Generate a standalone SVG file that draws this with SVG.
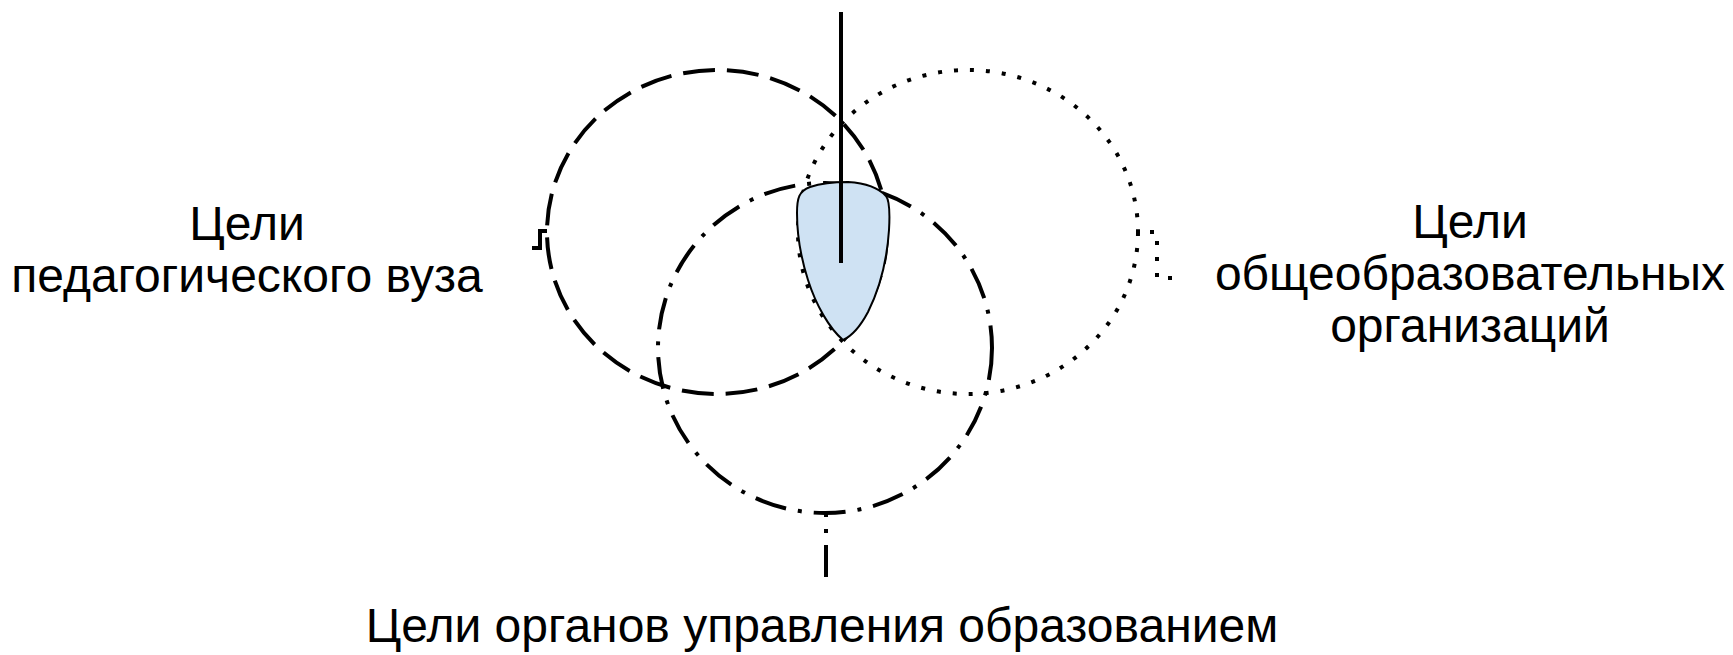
<svg xmlns="http://www.w3.org/2000/svg" width="1733" height="655" viewBox="0 0 1733 655">
  <style>
    .lbl { font-family: "Liberation Sans", Arial, sans-serif; font-size: 48px; fill: #000; text-anchor: middle; }
    .dash { fill: none; stroke: #000; stroke-width: 4; stroke-dasharray: 32 12; }
    .dot { fill: none; stroke: #000; stroke-width: 4; stroke-dasharray: 4 12; }
    .dashdot { fill: none; stroke: #000; stroke-width: 4; stroke-dasharray: 32 12 4 12; }
  </style>
  <rect width="1733" height="655" fill="#fff"/>
  <g id="node-vuz">
    <ellipse class="dash" cx="717" cy="232" rx="170" ry="162"/>
    <text class="lbl" x="247" y="240">Цели</text>
    <text class="lbl" x="247" y="292">педагогического вуза</text>
  </g>
  <g id="node-schools">
    <ellipse class="dot" cx="968" cy="232" rx="170" ry="162"/>
    <text class="lbl" x="1470" y="238">Цели</text>
    <text class="lbl" x="1470" y="290">общеобразовательных</text>
    <text class="lbl" x="1470" y="342">организаций</text>
  </g>
  <g id="node-gov">
    <ellipse class="dashdot" cx="825" cy="348" rx="167" ry="165"/>
    <text class="lbl" x="822" y="642">Цели органов управления образованием</text>
  </g>
  <g id="node-intersection">
    <path d="M843 340 C829 328 816 305 808 280 C800 255 797 230 797 213 C797 198 799 191 810 187 C822 183 835 182 848 182 C863 183 877 186 886 196 C890 201 890 213 889 230 C887 260 879 290 868 312 C860 327 852 336 843 340 Z" fill="#cfe2f3" stroke="#000" stroke-width="2"/>
  </g>
  <g id="connectors">
    <line x1="841" y1="12" x2="841" y2="263" stroke="#000" stroke-width="4"/>
    <path d="M547 231 H540 V248 H532" fill="none" stroke="#000" stroke-width="4"/>
    <path class="dot" d="M1150 232 H1157 V278 H1176"/>
    <path class="dashdot" d="M826 577 V513"/>
  </g>
</svg>
